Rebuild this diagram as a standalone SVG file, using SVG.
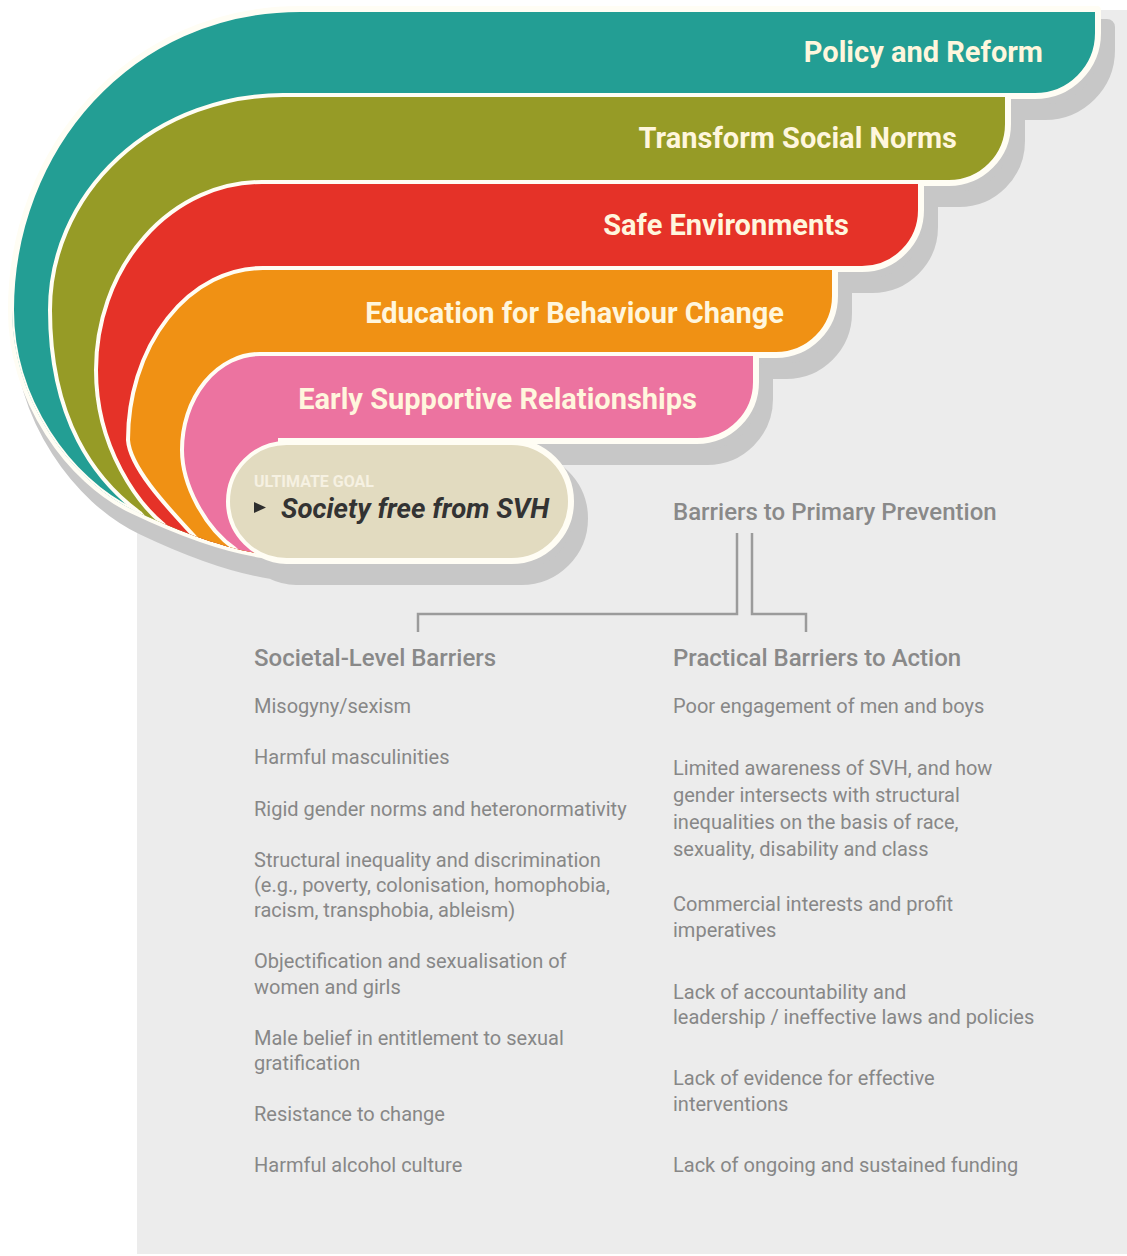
<svg xmlns="http://www.w3.org/2000/svg" width="1127" height="1256" viewBox="0 0 1127 1256">
  <style>
    .band { stroke: #fffdf4; stroke-width: 4; clip-path: url(#cluster); }
    .title { font-family: Roboto, "Liberation Sans", sans-serif; font-weight: 700; font-size: 29px; fill: #fff6dd; text-anchor: end; }
    .head { font-family: Roboto, "Liberation Sans", sans-serif; font-weight: 500; font-size: 24px; fill: #898989; }
    .item { font-family: Roboto, "Liberation Sans", sans-serif; font-weight: 400; font-size: 20px; fill: #878787; }
    .conn { stroke: #9b9b9b; stroke-width: 2.5; fill: none; }
  </style>
  <defs>
    <!-- outline of the whole stack of bands plus the goal capsule -->
    <path id="outline" d="M 300,10 H 1097 V 33 A 62 62 0 0 1 1035,95 H 1007 V 124 A 58 58 0 0 1 949,182 H 920 V 210 A 58 58 0 0 1 862,268 H 834 V 296 A 58 58 0 0 1 776,354 H 755 V 382 A 58 58 0 0 1 697,440 H 511.5 V 443 A 58.5 58.5 0 0 1 511.5,560 H 286.5 A 58.5 58.5 0 0 1 262,554 C 222,548 173,529 133,510 C 70,480 12,400 12,310 C 12,150 130,10 300,10 Z"/>
    <!-- trims the band tails along the lower-left edge -->
    <clipPath id="cluster">
      <path d="M 0,0 H 1127 V 557 H 300 L 262,554 C 222,548 173,529 133,510 C 70,480 12,400 12,310 L 0,310 Z"/>
    </clipPath>
  </defs>

  <!-- background panel (its top-left corner sits behind the bands) -->
  <path d="M 300,10 H 1127 V 1254 H 137 V 300 Z" fill="#ececec"/>

  <!-- drop shadow and white halo behind the stack -->
  <use href="#outline" transform="translate(10,17)" fill="#c7c7c7" stroke="#c7c7c7" stroke-width="16" stroke-linejoin="round"/>
  <use href="#outline" fill="#fffdf4" stroke="#fffdf4" stroke-width="8" stroke-linejoin="round"/>

  <g id="policy-reform">
    <path class="band" fill="#239e94" d="M 300,10 H 1097 V 33 A 62 62 0 0 1 1035,95 H 290 V 450 L 262,554 C 222,548 173,529 133,510 C 70,480 12,400 12,310 C 12,150 130,10 300,10 Z"/>
    <text class="title" x="1043" y="62">Policy and Reform</text>
  </g>
  <g id="transform-social-norms">
    <path class="band" fill="#969b26" d="M 283,95 H 1007 V 124 A 58 58 0 0 1 949,182 H 290 V 450 L 262,600 L 155,600 L 155,530 L 140,513 C 95,480 50,420 50,310 A 233 215 0 0 1 283,95 Z"/>
    <text class="title" x="957" y="148">Transform Social Norms</text>
  </g>
  <g id="safe-environments">
    <path class="band" fill="#e53228" d="M 262,182 H 920 V 210 A 58 58 0 0 1 862,268 H 290 V 450 L 262,600 L 178,600 L 178,540 L 163,524 C 140,505 96,450 96,370 A 166 188 0 0 1 262,182 Z"/>
    <text class="title" x="849" y="235">Safe Environments</text>
  </g>
  <g id="education-behaviour-change">
    <path class="band" fill="#f09114" d="M 263,268 H 834 V 296 A 58 58 0 0 1 776,354 H 290 V 450 L 262,600 L 210,600 L 210,553 L 195,537 C 175,515 130,470 128,440 A 135 172 0 0 1 263,268 Z"/>
    <text class="title" x="784" y="323">Education for Behaviour Change</text>
  </g>
  <g id="early-supportive-relationships">
    <path class="band" fill="#ec73a0" d="M 260,354 H 755 V 382 A 58 58 0 0 1 697,440 H 280 V 450 L 262,600 L 250,600 L 250,562 L 235,549 C 205,528 182,485 182,450 A 78 96 0 0 1 260,354 Z"/>
    <text class="title" x="697" y="409">Early Supportive Relationships</text>
  </g>

  <g id="ultimate-goal">
    <rect x="228" y="443" width="342" height="117" rx="58.5" fill="#e2dbc0" stroke="#fffdf4" stroke-width="4"/>
    <text x="254" y="487" font-family="Roboto, 'Liberation Sans', sans-serif" font-weight="700" font-size="16" fill="#f6f1e2">ULTIMATE GOAL</text>
    <polygon points="254,502 266,507.5 254,513" fill="#2e2e2e"/>
    <text x="281" y="518" font-family="Roboto, 'Liberation Sans', sans-serif" font-weight="700" font-style="italic" font-size="27.6" fill="#333333">Society free from SVH</text>
  </g>

  <g id="barriers-heading">
    <text class="head" x="673" y="520">Barriers to Primary Prevention</text>
  </g>

  <g id="connectors">
    <path class="conn" d="M 737,533 V 614 H 418 V 632"/>
    <path class="conn" d="M 752,533 V 614 H 806 V 632"/>
  </g>

  <g id="societal-barriers">
    <text class="head" x="254" y="666">Societal-Level Barriers</text>
    <text class="item" x="254" y="713">Misogyny/sexism</text>
    <text class="item" x="254" y="764">Harmful masculinities</text>
    <text class="item" x="254" y="816">Rigid gender norms and heteronormativity</text>
    <text class="item" x="254" y="867">Structural inequality and discrimination</text>
    <text class="item" x="254" y="892">(e.g., poverty, colonisation, homophobia,</text>
    <text class="item" x="254" y="917">racism, transphobia, ableism)</text>
    <text class="item" x="254" y="968">Objectification and sexualisation of</text>
    <text class="item" x="254" y="994">women and girls</text>
    <text class="item" x="254" y="1045">Male belief in entitlement to sexual</text>
    <text class="item" x="254" y="1070">gratification</text>
    <text class="item" x="254" y="1121">Resistance to change</text>
    <text class="item" x="254" y="1172">Harmful alcohol culture</text>
  </g>

  <g id="practical-barriers">
    <text class="head" x="673" y="666">Practical Barriers to Action</text>
    <text class="item" x="673" y="713">Poor engagement of men and boys</text>
    <text class="item" x="673" y="775">Limited awareness of SVH, and how</text>
    <text class="item" x="673" y="802">gender intersects with structural</text>
    <text class="item" x="673" y="829">inequalities on the basis of race,</text>
    <text class="item" x="673" y="856">sexuality, disability and class</text>
    <text class="item" x="673" y="911">Commercial interests and profit</text>
    <text class="item" x="673" y="937">imperatives</text>
    <text class="item" x="673" y="999">Lack of accountability and</text>
    <text class="item" x="673" y="1024">leadership / ineffective laws and policies</text>
    <text class="item" x="673" y="1085">Lack of evidence for effective</text>
    <text class="item" x="673" y="1111">interventions</text>
    <text class="item" x="673" y="1172">Lack of ongoing and sustained funding</text>
  </g>
</svg>
